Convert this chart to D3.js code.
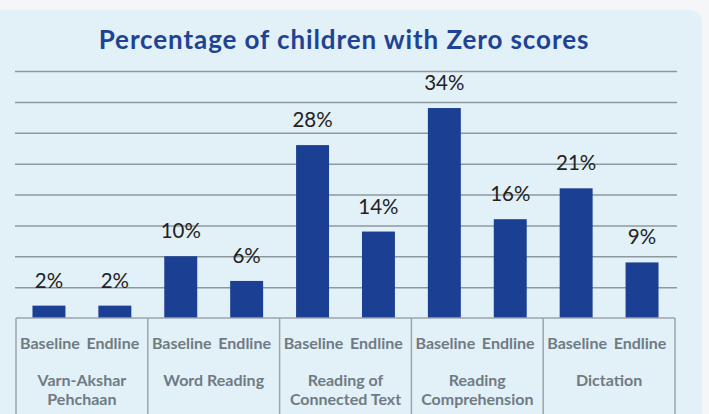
<!DOCTYPE html>
<html><head><meta charset="utf-8">
<script src="https://cdn.jsdelivr.net/npm/d3@7"></script>
<style>body{margin:0;background:#f4f6f7;}svg{display:block;}</style>
</head><body>
<svg id="c" width="709" height="414"></svg>
<script>
const categories = [["Varn-Akshar","Pehchaan"],["Word Reading"],["Reading of","Connected Text"],["Reading","Comprehension"],["Dictation"]];
const series = ["Baseline","Endline"];
const baseline = [2,10,28,34,21];
const endline = [2,6,14,16,9];
const yTicks = [0,5,10,15,20,25,30,35,40];
const title = "Percentage of children with Zero scores";

const svg = d3.select("#c");
const W = 709, H = 414;
const m = {left:16, right:675, top:71, bottom:318};

svg.append("rect").attr("x",-10).attr("y",10).attr("width",712).attr("height",420).attr("rx",12).attr("fill","#e2f0f7");

svg.append("text").attr("x",344).attr("y",49).attr("text-anchor","middle")
  .attr("font-family","Lato").attr("font-weight","bold").attr("font-size",26)
  .attr("letter-spacing","0.9px")
  .attr("fill","#1f4394").text(title);

const y = d3.scaleLinear().domain([0,40]).range([m.bottom,m.top]);
const x0 = d3.scaleBand().domain(d3.range(categories.length)).range([m.left,m.right]);
const x1 = d3.scaleBand().domain(series).range([0,x0.bandwidth()]).paddingInner(0.5).paddingOuter(0.25);

const grid = svg.append("g").attr("transform","translate(15,0)")
  .call(d3.axisLeft(y).tickValues(yTicks.filter(d=>d>0)).tickSize(-662).tickFormat(""));
grid.select(".domain").remove();
grid.selectAll(".tick line").attr("stroke","#8e999f").attr("stroke-width",1.5);

const data = categories.map((c,i)=>({i, vals:[{s:"Baseline",v:baseline[i]},{s:"Endline",v:endline[i]}]}));
const g = svg.selectAll("g.cat").data(data).join("g").attr("class","cat")
  .attr("transform",d=>`translate(${x0(d.i)},0)`);
g.selectAll("rect").data(d=>d.vals).join("rect")
  .attr("x",d=>x1(d.s)).attr("width",x1.bandwidth())
  .attr("y",d=>y(d.v)).attr("height",d=>y(0)-y(d.v)).attr("fill","#1b3f93");
g.selectAll("text.v").data(d=>d.vals).join("text").attr("class","v")
  .attr("x",d=>x1(d.s)+x1.bandwidth()/2).attr("y",d=>y(d.v)-18)
  .attr("text-anchor","middle").attr("font-family","Lato").attr("font-size",20.5)
  .attr("fill","#222").text(d=>d.v+"%");

// category table
const lineC = "#9aa5ad";
svg.append("line").attr("x1",m.left).attr("x2",m.right).attr("y1",m.bottom).attr("y2",m.bottom).attr("stroke",lineC).attr("stroke-width",1.5);
const seps = x0.domain().map(d=>x0(d)).concat([m.right]);
svg.selectAll("line.sep").data(seps).join("line").attr("class","sep")
  .attr("x1",d=>d).attr("x2",d=>d).attr("y1",m.bottom).attr("y2",H).attr("stroke",lineC).attr("stroke-width",1.5);
g.selectAll("text.s").data(d=>d.vals).join("text").attr("class","s")
  .attr("x",(d,k)=>x1(d.s)+x1.bandwidth()/2 + (k===0?1:-2)).attr("y",349)
  .attr("text-anchor","middle").attr("font-family","Lato").attr("font-weight","bold").attr("font-size",16)
  .attr("fill","#6f7b84").text(d=>d.s);
g.each(function(d){
  const lines = categories[d.i];
  d3.select(this).selectAll("text.c").data(lines).join("text").attr("class","c")
    .attr("x",x0.bandwidth()/2).attr("y",(l,k)=>386+k*19)
    .attr("text-anchor","middle").attr("font-family","Lato").attr("font-weight","bold").attr("font-size",16)
    .attr("fill","#6f7b84").text(l=>l);
});
</script>
</body></html>
